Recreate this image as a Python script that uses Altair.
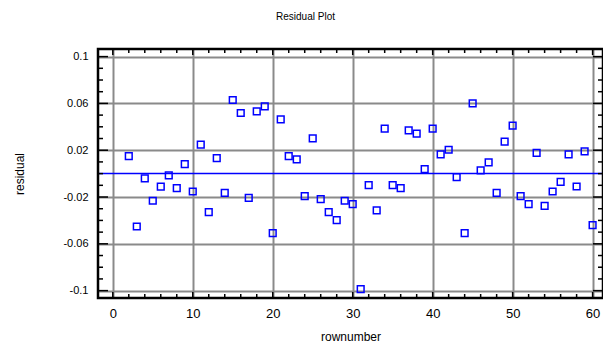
import altair as alt
import pandas as pd

# Data
rownumber = list(range(2, 61))
residual = [
    0.015, -0.0452, -0.0041, -0.0232, -0.0112, -0.0015, -0.0124, 0.0082, -0.0153, 0.0247,
    -0.0329, 0.0133, -0.0164, 0.0629, 0.0518, -0.0207, 0.0532, 0.0575, -0.0509, 0.0464,
    0.015, 0.0122, -0.0192, 0.0301, -0.0218, -0.0329, -0.0398, -0.0232, -0.0261, -0.0988,
    -0.0098, -0.0315, 0.0384, -0.0098, -0.0124, 0.037, 0.0341, 0.0039, 0.0384, 0.0164,
    0.0204, -0.003, -0.0509, 0.06, 0.0027, 0.0096, -0.0164, 0.0273, 0.041, -0.0192,
    -0.0261, 0.0178, -0.0275, -0.0153, -0.007, 0.0164, -0.011, 0.019, -0.044,
]

x_major = [0, 10, 20, 30, 40, 50, 60]
x_minor = [v for v in range(0, 61, 2) if v % 10 != 0]
y_major = [-0.1, -0.06, -0.02, 0.02, 0.06, 0.1]
y_minor = [round(-0.1 + 0.01 * k, 2) for k in range(21)]
y_minor = [v for v in y_minor if v not in y_major]

x_domain = [-1.85, 61.3]
y_domain = [-0.1063, 0.1065]

W, H = 505, 249
FONT = "Liberation Sans"
BLUE = "#0000ff"
GRID = "#8a8a8a"

xscale = alt.Scale(domain=x_domain, nice=False, zero=False)
yscale = alt.Scale(domain=y_domain, nice=False, zero=False)

df = pd.DataFrame({"rownumber": rownumber, "residual": residual})
xmaj = pd.DataFrame({"rownumber": x_major})
xmin = pd.DataFrame({"rownumber": x_minor})
ymaj = pd.DataFrame({"residual": y_major})
ymin = pd.DataFrame({"residual": y_minor})
frame_df = pd.DataFrame({"rownumber": [x_domain[0]], "x1": [x_domain[1]],
                         "residual": [y_domain[0]], "y1": [y_domain[1]]})

x_axis = alt.Axis(values=x_major, grid=True, ticks=False, domain=False,
                  labelFontSize=13, labelPadding=9, titleFontSize=12,
                  titlePadding=11, labelFont=FONT, titleFont=FONT,
                  titleFontWeight="normal", labelColor="black",
                  titleColor="black", gridColor=GRID, gridWidth=2,
                  gridOpacity=1)
y_axis = alt.Axis(values=y_major, grid=True, ticks=False, domain=False,
                  labelExpr="'' + datum.value",
                  labelFontSize=11, labelPadding=10, titleFontSize=12,
                  titlePadding=36, labelFont=FONT, titleFont=FONT,
                  titleFontWeight="normal", labelColor="black",
                  titleColor="black", gridColor=GRID, gridWidth=2,
                  gridOpacity=1)

X = lambda: alt.X("rownumber:Q", scale=xscale, title="rownumber", axis=x_axis)
Y = lambda: alt.Y("residual:Q", scale=yscale, title="residual", axis=y_axis)

points = alt.Chart(df).mark_point(
    shape="square", filled=False, color=BLUE, size=45, strokeWidth=1.5, opacity=1
).encode(x=X(), y=Y())

zero_line = alt.Chart(pd.DataFrame({"residual": [0.0]})).mark_rule(
    color=BLUE, strokeWidth=1.5
).encode(y=Y())

frame = alt.Chart(frame_df).mark_rect(
    fill="white", fillOpacity=0, stroke="black", strokeWidth=2.5, clip=False
).encode(x=X(), x2="x1:Q", y=Y(), y2="y1:Q")

def yticks(data, length):
    left = alt.Chart(data).mark_rule(color="black", strokeWidth=1.5).encode(
        y=Y(), x=alt.value(0), x2=alt.value(length))
    right = alt.Chart(data).mark_rule(color="black", strokeWidth=1.5).encode(
        y=Y(), x=alt.value(W), x2=alt.value(W - length))
    return [left, right]

def xticks(data, length):
    bottom = alt.Chart(data).mark_rule(color="black", strokeWidth=1.5).encode(
        x=X(), y=alt.value(H), y2=alt.value(H - length))
    top = alt.Chart(data).mark_rule(color="black", strokeWidth=1.5).encode(
        x=X(), y=alt.value(0), y2=alt.value(length))
    return [bottom, top]

chart = alt.layer(
    points,
    zero_line,
    *yticks(ymaj, 10),
    *yticks(ymin, 5),
    *xticks(xmaj, 6),
    *xticks(xmin, 4),
    frame,
).properties(
    width=W,
    height=H,
    autosize=alt.AutoSizeParams(type="none"),
    padding={"left": 98, "top": 49, "right": 0, "bottom": 51},
    title=alt.TitleParams("Residual Plot", fontSize=10, font=FONT,
                          fontWeight="normal", color="black", anchor="middle",
                          dx=-45, offset=26),
).configure_view(
    stroke=None
).configure(background="white")

chart.save("out.html", embed_options={"renderer": "svg", "actions": False})
